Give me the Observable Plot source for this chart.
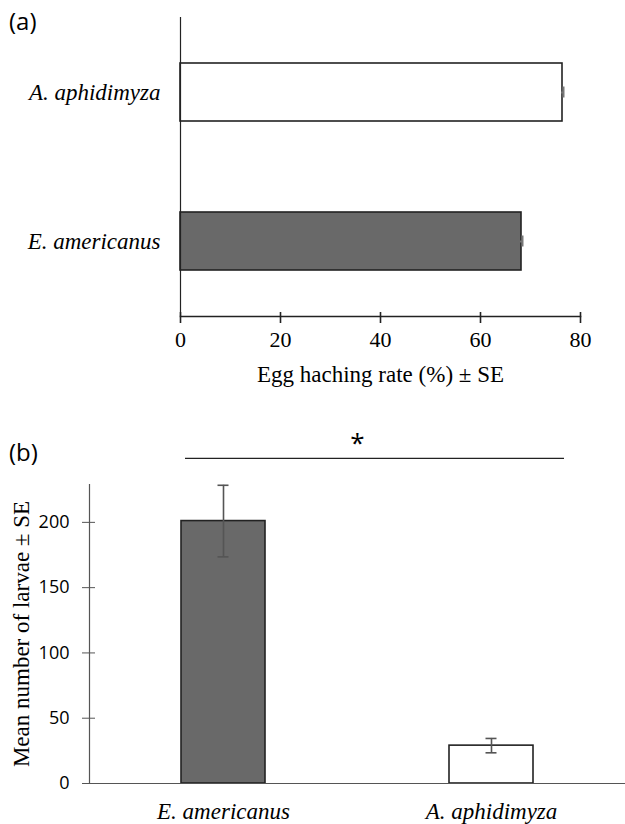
<!DOCTYPE html>
<html><head><meta charset="utf-8">
<script src="https://cdn.jsdelivr.net/npm/d3@7"></script>
<script src="https://cdn.jsdelivr.net/npm/@observablehq/plot@0.6"></script>
<style>
body{margin:0;background:#fff;}
#wrap{position:relative;width:625px;height:824px;overflow:hidden;background:#fff;}
.panel{position:absolute;left:9px;font-family:"Open Sans",sans-serif;font-size:24px;line-height:30px;color:#000;}
#chartA{position:absolute;left:0;top:0;}
#chartB{position:absolute;left:0;top:400px;}
#chartA svg text{font-family:"Liberation Serif","Times New Roman",serif;}
#chartB svg g[aria-label="x-axis tick label"] text{font-family:"Liberation Serif","Times New Roman",serif;}
#chartB svg g[aria-label="y-axis tick label"] text{font-family:"Open Sans",sans-serif;}
</style></head>
<body>
<div id="wrap">
<div id="chartA"></div>
<div id="chartB"></div>
<div class="panel" style="top:6px">(a)</div>
<div class="panel" style="top:437px">(b)</div>
</div>
<script>
// Panel (a): egg hatching rate
const speciesA = ["A. aphidimyza", "E. americanus"];
const hatching = [76.4, 68.2];
const hatchingSE = [0.2, 0.2];
const xTicksA = [0, 20, 40, 60, 80];
const xLabelA = "Egg haching rate (%) ± SE";

// Panel (b): number of larvae
const speciesB = ["E. americanus", "A. aphidimyza"];
const larvae = [201, 29];
const larvaeSE = [27.4, 5.5];
const yTicksB = [0, 50, 100, 150, 200];
const yLabelB = "Mean number of larvae ± SE";
const sigMark = ["*"];

const colorDomain = ["E. americanus", "A. aphidimyza"];
const colorRange = ["#696969", "#ffffff"];

const dataA = speciesA.map((s, i) => ({species: s, value: hatching[i], se: hatchingSE[i]}));
const dataB = speciesB.map((s, i) => ({species: s, value: larvae[i], se: larvaeSE[i]}));

const serif = "Liberation Serif, Times New Roman, serif";
const sans = "Open Sans, sans-serif";

const chartA = Plot.plot({
  width: 625, height: 400,
  marginLeft: 180, marginRight: 45, marginTop: 17, marginBottom: 84,
  style: {fontFamily: serif, fontSize: "21px", color: "#000", background: "transparent"},
  x: {domain: [0, 80], ticks: xTicksA},
  y: {domain: speciesA, paddingInner: 0.61, paddingOuter: 0.305},
  color: {domain: colorDomain, range: colorRange},
  marks: [
    Plot.barX(dataA, {y: "species", x: "value", fill: "species", stroke: "#222", strokeWidth: 1.6}),
    Plot.ruleY(dataA, {y: "species", x1: d => d.value - d.se, x2: d => d.value + d.se, stroke: "#777", strokeWidth: 2}),
    Plot.tickX(dataA, {y: "species", x: d => d.value + d.se, stroke: "#777", strokeWidth: 2, insetTop: 23.5, insetBottom: 23.5}),
    Plot.ruleX([0], {stroke: "#222", strokeWidth: 1.2}),
    Plot.frame({anchor: "bottom", stroke: "#222", strokeWidth: 1.6}),
    Plot.axisX({ticks: xTicksA, tickSize: 7, tickPadding: 8, label: null, fontFamily: serif, fontSize: 22, stroke: "#222", strokeWidth: 1.6}),
    Plot.axisX({ticks: xTicksA, tickSize: 4, dy: -4, text: null, label: null, stroke: "#222", strokeWidth: 1.6}),
    Plot.axisY({tickSize: 0, tickPadding: 20, label: null, fontFamily: serif, fontStyle: "italic", fontSize: 23}),
    Plot.text([xLabelA], {text: d => d, frameAnchor: "bottom", dy: 65, fontFamily: serif, fontSize: 23})
  ]
});
document.getElementById("chartA").append(chartA);

const chartB = Plot.plot({
  width: 625, height: 424,
  marginLeft: 89, marginRight: 0, marginTop: 84, marginBottom: 41,
  style: {fontFamily: serif, fontSize: "21px", color: "#000", background: "transparent", overflow: "visible"},
  x: {domain: speciesB, paddingInner: 0.687, paddingOuter: 0.3435},
  y: {domain: [0, 229], ticks: yTicksB},
  color: {domain: colorDomain, range: colorRange},
  marks: [
    Plot.barY(dataB, {x: "species", y: "value", fill: "species", stroke: "#222", strokeWidth: 1.6}),
    Plot.ruleX(dataB, {x: "species", y1: d => d.value - d.se, y2: d => d.value + d.se, stroke: "#555", strokeWidth: 1.6}),
    Plot.tickY(dataB, {x: "species", y: d => d.value - d.se, stroke: "#555", strokeWidth: 1.6, insetLeft: 36.5, insetRight: 36.5}),
    Plot.tickY(dataB, {x: "species", y: d => d.value + d.se, stroke: "#555", strokeWidth: 1.6, insetLeft: 36.5, insetRight: 36.5}),
    Plot.ruleY([0], {stroke: "#555", strokeWidth: 1.2}),
    Plot.frame({anchor: "left", stroke: "#555", strokeWidth: 1.2}),
    Plot.axisY({ticks: yTicksB, tickSize: 7, tickPadding: 13, label: null, fontFamily: sans, fontSize: 18, stroke: "#555"}),
    Plot.axisY({ticks: yTicksB, tickSize: 6, dx: 6, text: null, label: null, stroke: "#555"}),
    Plot.axisX({tickSize: 0, tickPadding: 19, label: null, fontFamily: serif, fontStyle: "italic", fontSize: 23}),
    Plot.text([yLabelB], {text: d => d, frameAnchor: "left", textAnchor: "middle", rotate: -90, dx: -68, fontFamily: serif, fontSize: 23}),
    Plot.ruleY([249], {insetLeft: 96, insetRight: 61, stroke: "#222", strokeWidth: 1.2}),
    Plot.text(sigMark, {y: () => 260, text: d => d, frameAnchor: "middle", fontFamily: sans, fontSize: 26})
  ]
});
document.getElementById("chartB").append(chartB);
</script>
</body></html>
